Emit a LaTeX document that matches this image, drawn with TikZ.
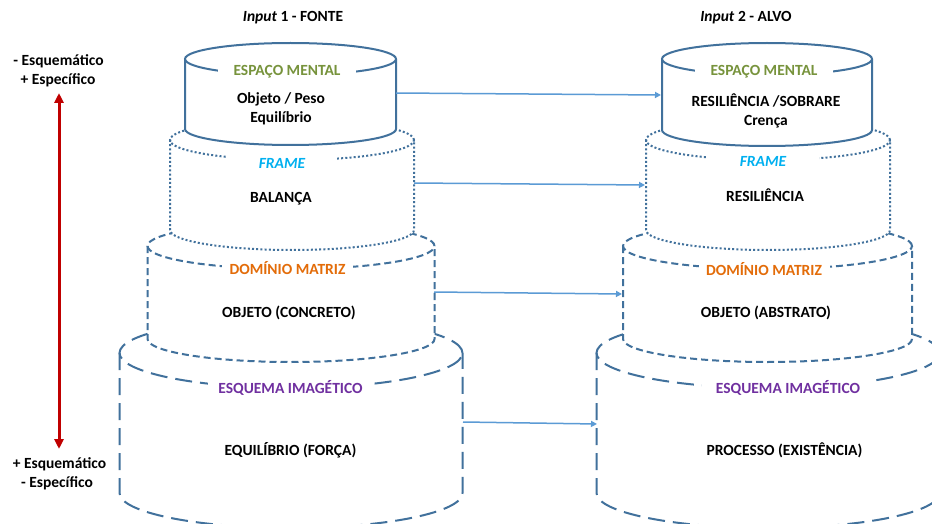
\documentclass[tikz,border=0pt]{standalone}
\usepackage{fontspec}
\setmainfont{Carlito}
\usetikzlibrary{arrows.meta}

\definecolor{rim}{HTML}{41719C}
\definecolor{link}{HTML}{5B9BD5}
\definecolor{axis}{HTML}{C00000}
\definecolor{tagA}{HTML}{77933C}
\definecolor{tagB}{HTML}{00B0F0}
\definecolor{tagC}{HTML}{E36C09}
\definecolor{tagD}{HTML}{7030A0}

% A drum: #1 centre x, #2 top ellipse y, #3 bottom ellipse y,
% #4 x radius, #5 top y radius, #6 bottom y radius, #7 line style
\newcommand{\drum}[7]{%
  \fill[white] ({#1-#4},{-#2}) -- ({#1-#4},{-#3})
    arc[start angle=180,end angle=360,x radius=#4,y radius=#6]
    -- ({#1+#4},{-#2})
    arc[start angle=0,end angle=180,x radius=#4,y radius=#5] -- cycle;
  \draw[#7] ({#1+#4},{-#2})
    arc[start angle=0,end angle=360,x radius=#4,y radius=#5];
  \draw[#7] ({#1-#4},{-#2}) -- ({#1-#4},{-#3})
    arc[start angle=180,end angle=360,x radius=#4,y radius=#6]
    -- ({#1+#4},{-#2});
}

\begin{document}
\begin{tikzpicture}[x=1pt,y=1pt,
  txt/.style={font=\bfseries\fontsize{15.5}{18}\selectfont, inner sep=0pt,
    text height=10pt, text depth=0pt, anchor=center},
  tag/.style={txt, fill=white, minimum height=17pt},
  solidrim/.style={draw=rim, line width=2pt},
  dotrim/.style={draw=rim, line width=2pt, dash pattern=on 2pt off 2.2pt},
  dashrim/.style={draw=rim, line width=2pt, dash pattern=on 7pt off 4pt},
  longrim/.style={draw=rim, line width=2pt, dash pattern=on 17pt off 8pt},
  linkarrow/.style={draw=link, line width=1.5pt, -{Triangle[length=6pt,width=6pt]}},
  axisarrow/.style={draw=axis, line width=3pt,
    {Triangle[length=10pt,width=9pt]}-{Triangle[length=10pt,width=9pt]}}]

\clip (0,0) rectangle (932,-524);
\fill[white] (0,0) rectangle (932,-524);

% ---------- left column: Input 1 ----------
\drum{291}{353}{493}{171.5}{35}{35}{longrim}
\node[tag, text=tagD, minimum width=165pt] (lD) at (290.5,-388) {ESQUEMA IMAGÉTICO};
\node[txt] (lDt) at (290.5,-450) {EQUILÍBRIO (FORÇA)};

\drum{291}{246}{339}{143.5}{23}{23}{dashrim}
\node[tag, text=tagC, minimum width=131pt] (lC) at (287.5,-269) {DOMÍNIO MATRIZ};
\node[txt] (lCt) at (289,-312) {OBJETO (CONCRETO)};

\drum{292}{140}{230}{122}{20}{20}{dotrim}
\node[tag, text=tagB, minimum width=110pt] (lB) at (282,-163) {\itshape FRAME};
\node[txt] (lBt) at (281,-198) {BALANÇA};

\drum{290.5}{59}{129}{105.5}{16}{16}{solidrim}
\node[tag, text=tagA, minimum width=138pt] (lA) at (287,-71) {ESPAÇO MENTAL};
\node[txt] (lAt1) at (281,-99) {Objeto / Peso};
\node[txt] (lAt2) at (281,-118) {Equilíbrio};

% ---------- right column: Input 2 ----------
\drum{768}{353}{493}{171.5}{35}{35}{longrim}
\node[tag, text=tagD, minimum width=172pt] (rD) at (788,-388) {ESQUEMA IMAGÉTICO};
\node[txt] (rDt) at (784.5,-450) {PROCESSO (EXISTÊNCIA)};

\drum{767.5}{246}{339}{144.5}{23}{23}{dashrim}
\node[tag, text=tagC, minimum width=131pt] (rC) at (764,-270) {DOMÍNIO MATRIZ};
\node[txt] (rCt) at (766,-312) {OBJETO (ABSTRATO)};

\drum{768}{140}{230}{122}{20}{20}{dotrim}
\node[tag, text=tagB, minimum width=112pt] (rB) at (763,-162) {\itshape FRAME};
\node[txt] (rBt) at (765,-196) {RESILIÊNCIA};

\drum{767}{59}{130}{105}{16}{16}{solidrim}
\node[tag, text=tagA, minimum width=138pt] (rA) at (764,-71) {ESPAÇO MENTAL};
\node[txt] (rAt1) at (766,-102) {RESILIÊNCIA /SOBRARE};
\node[txt] (rAt2) at (766,-121) {Crença};

% ---------- headings ----------
\node[txt] (inA) at (293,-17) {\textit{Input} 1 - FONTE};
\node[txt] (inB) at (746,-17) {\textit{Input} 2 - ALVO};

% ---------- scale of schematicity ----------
\node[txt] (sTop1) at (58.5,-61) {- Esquemático};
\node[txt] (sTop2) at (58,-80) {+ Específico};
\node[txt] (sBot1) at (59.5,-463) {+ Esquemático};
\node[txt] (sBot2) at (57,-482) {- Específico};
\coordinate (axTop) at (59,-93);
\coordinate (axBot) at (59,-449);
\draw[axisarrow] (axTop) -- (axBot);

% ---------- mappings between the inputs ----------
\coordinate (srcA) at (396,-93);   \coordinate (dstA) at (661,-95);
\coordinate (srcB) at (414,-183);  \coordinate (dstB) at (645,-185);
\coordinate (srcC) at (434,-292);  \coordinate (dstC) at (622,-294);
\coordinate (srcD) at (463,-422);  \coordinate (dstD) at (597,-424);
\draw[linkarrow] (srcA) -- (dstA);
\draw[linkarrow] (srcB) -- (dstB);
\draw[linkarrow] (srcC) -- (dstC);
\draw[linkarrow] (srcD) -- (dstD);
\end{tikzpicture}
\end{document}
